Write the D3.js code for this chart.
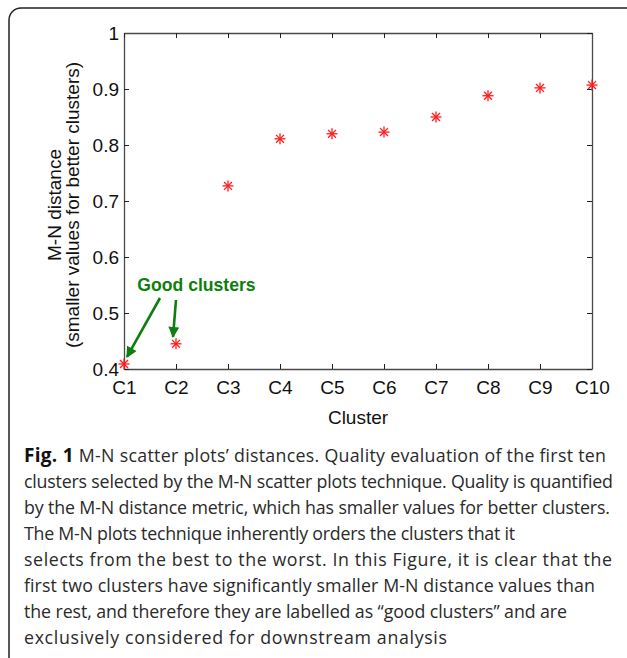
<!DOCTYPE html>
<html><head><meta charset="utf-8">
<script src="https://cdn.jsdelivr.net/npm/d3@7"></script>
<style>body{margin:0;background:#fff}svg{display:block}</style>
</head><body>
<svg id="c" width="627" height="658"></svg>
<script>
const categories = ["C1","C2","C3","C4","C5","C6","C7","C8","C9","C10"];
const distances = [0.409,0.445,0.727,0.811,0.820,0.823,0.850,0.888,0.902,0.907];
const yTicks = [0.4,0.5,0.6,0.7,0.8,0.9,1];
const yTickLabels = ["0.4","0.5","0.6","0.7","0.8","0.9","1"];
const captionBold = "Fig. 1";
const captionLines = [
 " M-N scatter plots\u2019 distances. Quality evaluation of the first ten",
 "clusters selected by the M-N scatter plots technique. Quality is quantified",
 "by the M-N distance metric, which has smaller values for better clusters.",
 "The M-N plots technique inherently orders the clusters that it",
 "selects from the best to the worst. In this Figure, it is clear that the",
 "first two clusters have significantly smaller M-N distance values than",
 "the rest, and therefore they are labelled as \u201cgood clusters\u201d and are",
 "exclusively considered for downstream analysis"
];
const annotation = "Good clusters";
const goodIdx = [0,1];

// layout (not data): rendered widths of caption lines
const captionWidths = [582,589,586,491,588,571,543,423];

const svg = d3.select("#c");
const L=124,R=592,T=33,B=369;
const x = d3.scalePoint().domain(categories).range([L,R]);
const y = d3.scaleLinear().domain([0.4,1]).range([B,T]);
const axisColor="#4a4a4a", font="Liberation Sans, Arial, sans-serif", fs=19;

// outer frame
svg.append("rect").attr("x",9).attr("y",8).attr("width",660).attr("height",662)
  .attr("rx",12).attr("fill","none").attr("stroke","#222").attr("stroke-width",1.5);

const g = svg.append("g");
const ax = g.append("g").attr("transform",`translate(0,${B})`)
  .call(d3.axisBottom(x).tickSizeInner(-5).tickSizeOuter(0).tickPadding(12));
const ayl = g.append("g").attr("transform",`translate(${L},0)`)
  .call(d3.axisLeft(y).tickValues(yTicks).tickFormat((d,i)=>yTickLabels[i]).tickSizeInner(-5).tickSizeOuter(0).tickPadding(5));
const at = g.append("g").attr("transform",`translate(0,${T})`)
  .call(d3.axisTop(x).tickSizeInner(-5).tickSizeOuter(0).tickFormat(""));
const ar = g.append("g").attr("transform",`translate(${R},0)`)
  .call(d3.axisRight(y).tickValues(yTicks).tickSizeInner(-5).tickSizeOuter(0).tickFormat(""));
[ax,ayl,at,ar].forEach(a=>{
  a.selectAll("path").attr("stroke",axisColor).attr("stroke-width",1.3);
  a.selectAll("line").attr("stroke","#222").attr("stroke-width",1);
  a.selectAll("text").attr("fill","#111").attr("font-family",font).attr("font-size",fs);
});

// axis titles
g.append("text").attr("x",(L+R)/2).attr("y",424).attr("text-anchor","middle")
  .attr("font-family",font).attr("font-size",fs).attr("fill","#111").text("Cluster");
const yl = g.append("text").attr("transform",`translate(61,${(T+B)/2+4}) rotate(-90)`)
  .attr("text-anchor","middle").attr("font-family",font).attr("font-size",fs).attr("fill","#111");
yl.append("tspan").attr("x",0).attr("dy",0).text("M-N distance");
yl.append("tspan").attr("x",0).attr("dy",18).text("(smaller values for better clusters)");

// asterisk markers
const s=5.5;
const mk = g.append("g").selectAll("g").data(distances).join("g")
  .attr("transform",(d,i)=>`translate(${x(categories[i])},${y(d)})`)
  .attr("stroke","#ff1a1a").attr("stroke-width",1.3);
mk.append("line").attr("x1",-s).attr("x2",s).attr("y1",0).attr("y2",0);
mk.append("line").attr("x1",0).attr("x2",0).attr("y1",-s).attr("y2",s);
mk.append("line").attr("x1",-s*0.72).attr("x2",s*0.72).attr("y1",-s*0.72).attr("y2",s*0.72);
mk.append("line").attr("x1",-s*0.72).attr("x2",s*0.72).attr("y1",s*0.72).attr("y2",-s*0.72);

// annotation
const green="#0c7f0c";
g.append("text").attr("x",196.5).attr("y",291).attr("text-anchor","middle")
  .attr("font-family",font).attr("font-weight","bold").attr("font-size",17.6).attr("fill",green).text(annotation);
const defs = svg.append("defs");
defs.append("marker").attr("id","ah").attr("viewBox","0 0 10 10").attr("refX",9).attr("refY",5)
  .attr("markerWidth",4.4).attr("markerHeight",4.2).attr("orient","auto")
  .append("path").attr("d","M0,0 L10,5 L0,10 z").attr("fill",green);
const starts = [[160,298],[176,300]];
const ends = [[x(categories[goodIdx[0]])+3,y(distances[goodIdx[0]])-7],[x(categories[goodIdx[1]])-3,y(distances[goodIdx[1]])-7]];
goodIdx.forEach((k,i)=>{
  g.append("line").attr("x1",starts[i][0]).attr("y1",starts[i][1]).attr("x2",ends[i][0]).attr("y2",ends[i][1])
   .attr("stroke",green).attr("stroke-width",2.6).attr("marker-end","url(#ah)");
});

// caption
const cap = svg.append("g").attr("font-family","Open Sans, sans-serif").attr("font-size",17.8).attr("fill","#2a2a2a");
captionLines.forEach((ln,i)=>{
  const t = cap.append("text").attr("x",24).attr("y",461.5+i*26.1)
    .attr("textLength",captionWidths[i]).attr("lengthAdjust","spacing");
  if(i===0){ t.append("tspan").attr("font-weight","bold").attr("font-size",19).attr("fill","#111").text(captionBold); }
  t.append("tspan").text(ln);
});
</script>
</body></html>
